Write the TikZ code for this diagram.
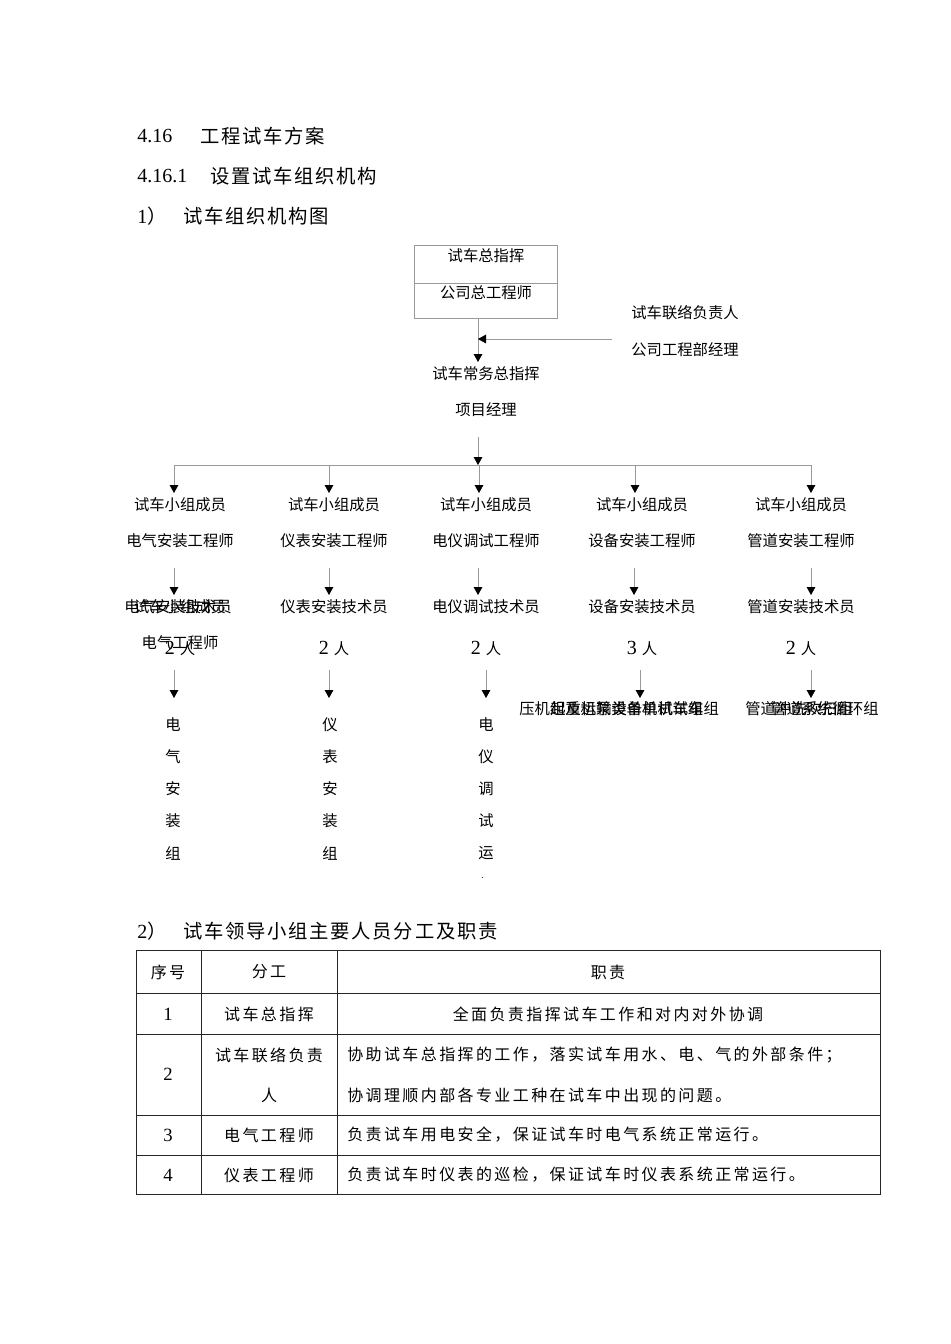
\documentclass[tikz,border=0pt]{standalone}
\usepackage{fontspec}
\setmainfont{Liberation Serif}
\newfontfamily\cjk{Noto Sans CJK SC}
\usetikzlibrary{arrows.meta}
\begin{document}
\begin{tikzpicture}[x=0.75pt,y=-0.75pt,
  conn/.style={draw=black!40, line width=0.6pt},
  arr/.style={conn,-{Triangle[width=6.5pt,length=6pt,color=black]}},
  ct/.style={inner sep=0pt, font=\cjk\fontsize{11.5}{13}\selectfont},
  hd/.style={inner sep=0pt, anchor=west, font=\fontsize{15}{18}\selectfont},
  hz/.style={inner sep=0pt, anchor=west, font=\cjk\fontsize{14.5}{18}\selectfont\addfontfeatures{LetterSpace=9}},
  tb/.style={inner sep=0pt, font=\cjk\fontsize{12}{14}\selectfont\addfontfeatures{LetterSpace=15}},
  tn/.style={inner sep=0pt, font=\fontsize{14}{16}\selectfont},
  tline/.style={draw=black!85, line width=0.6pt}]
\useasboundingbox[fill=white] (0,0) rectangle (950,1344);

% headings
\node[hd] (h1n) at (137,136) {4.16};
\node[hz] (h1t) at (200,136) {工程试车方案};
\node[hd] (h2n) at (137,176) {4.16.1};
\node[hz] (h2t) at (210,176) {设置试车组织机构};
\node[hd] (h3n) at (137,216) {1{\cjk\fontsize{14.5}{18}\selectfont ）}};
\node[hz] (h3t) at (183,216) {试车组织机构图};

% top box
\draw[conn] (414,245) rectangle (557,318);
\draw[conn] (414,283) -- (557,283);
\node[ct] (zz) at (486,256) {试车总指挥};
\node[ct] (zg) at (486,293) {公司总工程师};
\coordinate (boxb) at (478,318);
\coordinate (t1) at (478,362);
\draw[arr] (boxb) -- (t1);

\node[ct] (lx1) at (685,313) {试车联络负责人};
\node[ct] (lx2) at (685,350) {公司工程部经理};
\coordinate (lxs) at (612,339);
\coordinate (lxe) at (478,339);
\draw[arr] (lxs) -- (lxe);

\node[ct] (cw1) at (486,374) {试车常务总指挥};
\node[ct] (cw2) at (486,410) {项目经理};
\coordinate (cwb) at (478,437);
\coordinate (bus) at (478,465);
\draw[arr] (cwb) -- (bus);
\coordinate (busl) at (174,465);
\coordinate (busr) at (811,465);
\draw[conn] (busl) -- (busr);

% columns
\foreach \x/\tx/\a/\b/\c in {174/180/174/174/1, 329/334/329/329/2, 479/486/478/486/3, 635/642/634/640/4, 811/801/811/811/5}{
  \coordinate (d\c) at (\x,465);
  \draw[arr] (d\c) -- (\x,493);
  \node[ct] (m\c) at (\tx,505) {试车小组成员};
  \coordinate (ms\c) at (\a,568);
  \coordinate (me\c) at (\a,595);
  \draw[arr] (ms\c) -- (me\c);
  \coordinate (ls\c) at (\b,670);
  \coordinate (le\c) at (\b,698);
  \draw[arr] (ls\c) -- (le\c);
}
\node[ct] (e1) at (180,541) {电气安装工程师};
\node[ct] (e2) at (334,541) {仪表安装工程师};
\node[ct] (e3) at (486,541) {电仪调试工程师};
\node[ct] (e4) at (642,541) {设备安装工程师};
\node[ct] (e5) at (801,541) {管道安装工程师};

\node[ct] (j1a) at (178,607) {电气安装技术员};
\node[ct] (j1b) at (180,607) {试车小组成员};
\node[ct] (j2) at (334,607) {仪表安装技术员};
\node[ct] (j3) at (486,607) {电仪调试技术员};
\node[ct] (j4) at (642,607) {设备安装技术员};
\node[ct] (j5) at (801,607) {管道安装技术员};

\node[ct] (p1a) at (180,643) {电气工程师};
\node[inner sep=0pt] (p1b) at (180,648) {{\fontsize{15}{17}\selectfont 2 }{\cjk\fontsize{11.5}{13}\selectfont 人}};
\node[inner sep=0pt] (p2) at (334,648) {{\fontsize{15}{17}\selectfont 2 }{\cjk\fontsize{11.5}{13}\selectfont 人}};
\node[inner sep=0pt] (p3) at (486,648) {{\fontsize{15}{17}\selectfont 2 }{\cjk\fontsize{11.5}{13}\selectfont 人}};
\node[inner sep=0pt] (p4) at (642,648) {{\fontsize{15}{17}\selectfont 3 }{\cjk\fontsize{11.5}{13}\selectfont 人}};
\node[inner sep=0pt] (p5) at (801,648) {{\fontsize{15}{17}\selectfont 2 }{\cjk\fontsize{11.5}{13}\selectfont 人}};

% overlapping group labels (as printed)
\node[ct,anchor=west] (g4a) at (519,709) {压机组及机泵类单机试车组};
\node[ct,anchor=west] (g4b) at (550,709) {起重运输设备单机试车组};
\node[ct,anchor=west] (g5a) at (745,709) {管道冲洗吹扫组};
\node[ct,anchor=west] (g5b) at (771,709) {管道系统循环组};

% vertical labels
\foreach \ch [count=\i] in {电,气,安,装,组}{
  \node[ct] (v1\i) at (173,693+32*\i) {\ch};}
\foreach \ch [count=\i] in {仪,表,安,装,组}{
  \node[ct] (v2\i) at (330,693+32*\i) {\ch};}
\begin{scope}
\clip (440,700) rectangle (540,877);
\foreach \ch [count=\i] in {电,仪,调,试,运,行}{
  \node[ct] (v3\i) at (486,693+32*\i) {\ch};}
\end{scope}

% section 2
\node[hd] (s2n) at (137,931) {2{\cjk\fontsize{14.5}{18}\selectfont ）}};
\node[hz] (s2t) at (183,931) {试车领导小组主要人员分工及职责};

% table
\draw[tline] (136,950) rectangle (880,1194);
\foreach \y in {993,1034,1115,1155} \draw[tline] (136,\y) -- (880,\y);
\draw[tline] (201,950) -- (201,1194);
\draw[tline] (337,950) -- (337,1194);

\node[tb] (th1) at (168,972) {序号};
\node[tb] (th2) at (269,972) {分工};
\node[tb] (th3) at (608,972) {职责};

\node[tn] (r1a) at (168,1014) {1};
\node[tb] (r1b) at (269,1014) {试车总指挥};
\node[tb] (r1c) at (608,1014) {全面负责指挥试车工作和对内对外协调};

\node[tn] (r2a) at (168,1074) {2};
\node[tb] (r2b) at (269,1055) {试车联络负责};
\node[tb] (r2b2) at (269,1095) {人};
\node[tb,anchor=west] (r2c) at (347,1055) {协助试车总指挥的工作，落实试车用水、电、气的外部条件；};
\node[tb,anchor=west] (r2c2) at (347,1095) {协调理顺内部各专业工种在试车中出现的问题。};

\node[tn] (r3a) at (168,1135) {3};
\node[tb] (r3b) at (269,1135) {电气工程师};
\node[tb,anchor=west] (r3c) at (347,1135) {负责试车用电安全，保证试车时电气系统正常运行。};

\node[tn] (r4a) at (168,1175) {4};
\node[tb] (r4b) at (269,1175) {仪表工程师};
\node[tb,anchor=west] (r4c) at (347,1175) {负责试车时仪表的巡检，保证试车时仪表系统正常运行。};
\end{tikzpicture}
\end{document}
